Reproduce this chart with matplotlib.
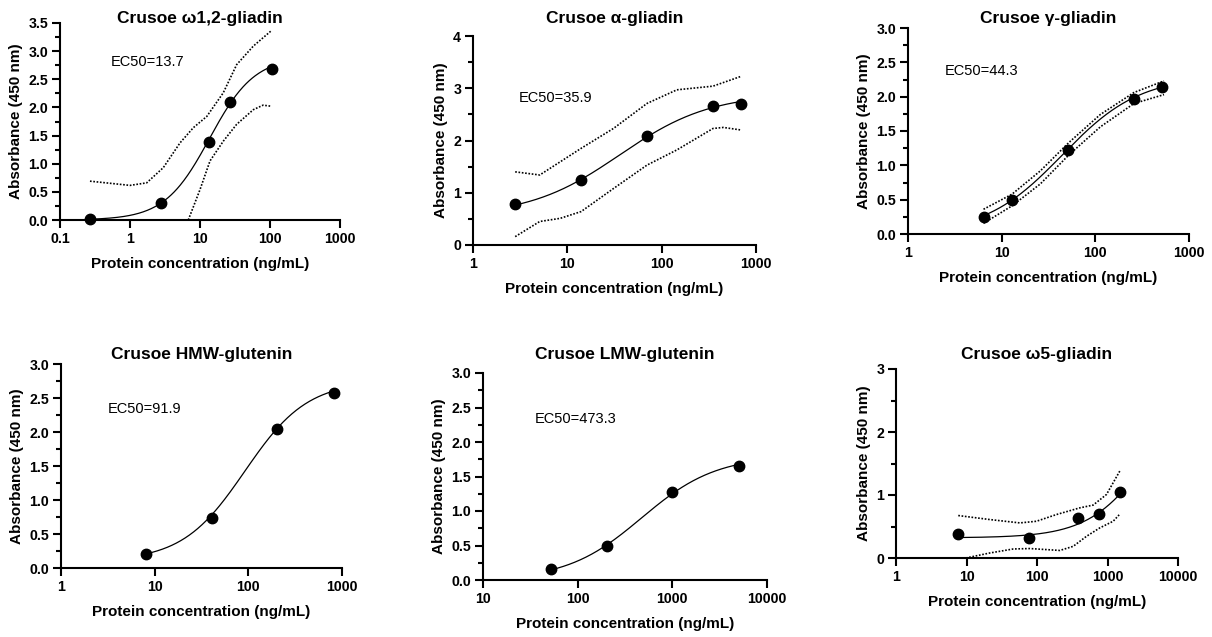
import numpy as np
import matplotlib
matplotlib.use("Agg")
import matplotlib.pyplot as plt
from matplotlib.ticker import FixedLocator, MultipleLocator, FormatStrFormatter, NullLocator

plt.rcParams["font.family"] = ["Liberation Sans", "DejaVu Sans"]

titles = ["Crusoe \u03c91,2-gliadin", "Crusoe \u03b1-gliadin", "Crusoe \u03b3-gliadin",
          "Crusoe HMW-glutenin", "Crusoe LMW-glutenin", "Crusoe \u03c95-gliadin"]
ec50_labels = ["EC50=13.7", "EC50=35.9", "EC50=44.3", "EC50=91.9", "EC50=473.3", None]

# measured points (ng/mL, absorbance)
conc = [
    [0.27, 2.73, 13.5, 26.5, 108],
    [2.8, 14, 70, 350, 700],
    [6.4, 12.8, 51.2, 256, 512],
    [8.1, 41, 204, 820],
    [52, 202, 1000, 5000],
    [7.6, 76, 382, 762, 1525],
]
absorb = [
    [0.02, 0.31, 1.39, 2.09, 2.68],
    [0.78, 1.24, 2.08, 2.66, 2.70],
    [0.25, 0.50, 1.22, 1.97, 2.14],
    [0.21, 0.74, 2.05, 2.57],
    [0.16, 0.49, 1.27, 1.65],
    [0.38, 0.31, 0.63, 0.70, 1.04],
]

# 4PL fit parameters: bottom, top, EC50, hill
fit_bottom = [0.0, 0.55, 0.0, 0.10, 0.0, 0.32]
fit_top = [2.90, 2.90, 2.30, 2.75, 1.80, 3.00]
fit_ec50 = [13.7, 35.9, 44.3, 91.9, 473.3, 4300]
fit_hill = [1.35, 0.90, 1.05, 1.30, 1.10, 1.00]

# confidence band traces
upper_x = [
    [0.268, 1.0, 1.73, 2.99, 5.18, 8.03, 12.5, 21.5, 33.4, 57.8, 106],
    [2.8, 5.1, 14, 30.8, 70, 145, 350, 700],
    [6.4, 12.9, 25.9, 52, 113, 258, 541],
    None,
    None,
    [7.64, 21.5, 57.2, 98, 189, 405, 626, 967, 1494],
]
upper_y = [
    [0.69, 0.615, 0.66, 0.93, 1.37, 1.64, 1.84, 2.26, 2.76, 3.09, 3.37],
    [1.40, 1.34, 1.85, 2.23, 2.71, 2.97, 3.04, 3.23],
    [0.36, 0.58, 0.92, 1.33, 1.74, 2.06, 2.23],
    None,
    None,
    [0.674, 0.61, 0.557, 0.583, 0.69, 0.796, 0.84, 1.008, 1.38],
]
lower_x = [
    [6.8, 10, 13.9, 21.5, 33.4, 57.8, 79.6, 106],
    [2.8, 5.1, 8.4, 14, 30.8, 70, 145, 350, 451, 700],
    [6.4, 12.9, 25.9, 52, 113, 258, 541],
    None,
    None,
    [9.8, 21.5, 46, 79, 211, 326, 503, 778, 1202, 1462],
]
lower_y = [
    [0.0, 0.54, 1.05, 1.40, 1.70, 1.96, 2.04, 2.02],
    [0.16, 0.45, 0.51, 0.64, 1.08, 1.53, 1.82, 2.23, 2.25, 2.20],
    [0.155, 0.41, 0.73, 1.15, 1.56, 1.90, 2.03],
    None,
    None,
    [0.0, 0.08, 0.143, 0.15, 0.12, 0.185, 0.344, 0.478, 0.583, 0.685],
]

zero_dotted = [True, False, False, False, True, False]

x_limits = [(0.1, 1000), (1, 1000), (1, 1000), (1, 1000), (10, 10000), (1, 10000)]
x_ticks = [[0.1, 1, 10, 100, 1000], [1, 10, 100, 1000], [1, 10, 100, 1000],
           [1, 10, 100, 1000], [10, 100, 1000, 10000], [1, 10, 100, 1000, 10000]]
x_ticklabels = [["0.1", "1", "10", "100", "1000"], ["1", "10", "100", "1000"],
                ["1", "10", "100", "1000"], ["1", "10", "100", "1000"],
                ["10", "100", "1000", "10000"], ["1", "10", "100", "1000", "10000"]]
y_max = [3.5, 4, 3, 3, 3, 3]
y_major = [0.5, 1, 0.5, 0.5, 0.5, 1]
y_fmt = ["%.1f", "%d", "%.1f", "%.1f", "%.1f", "%d"]

# axes boxes in pixels: left, right, top, bottom
W, H = 1212, 637
boxes = [(60, 340, 23, 220), (473, 756, 36, 245), (908, 1189, 28, 234),
         (61, 342, 364, 568), (483, 767, 373, 580), (896, 1178, 369, 558)]
title_y = [19, 19, 19, 355, 355, 355]
ec50_pos = [(0.18, 0.80), (0.163, 0.705), (0.13, 0.79), (0.167, 0.78), (0.183, 0.78), None]

fig = plt.figure(figsize=(W / 100, H / 100), dpi=100)

for i in range(6):
    l, r, t, b = boxes[i]
    ax = fig.add_axes([l / W, 1 - b / H, (r - l) / W, (b - t) / H])
    ax.set_xscale("log")

    xs = np.logspace(np.log10(conc[i][0]), np.log10(conc[i][-1]), 300)
    ys = fit_bottom[i] + (fit_top[i] - fit_bottom[i]) / (1 + (fit_ec50[i] / xs) ** fit_hill[i])
    ax.plot(xs, ys, color="black", lw=0.9)

    if upper_x[i] is not None:
        ax.plot(upper_x[i], upper_y[i], color="black", ls=(0, (1, 1)), lw=1.2)
        ax.plot(lower_x[i], lower_y[i], color="black", ls=(0, (1, 1)), lw=1.2)
    if zero_dotted[i]:
        ax.axhline(0, color="black", ls=(0, (1, 1)), lw=1.4, clip_on=False)

    ax.plot(conc[i], absorb[i], "o", color="black", ms=7.5, clip_on=False, zorder=5)

    ax.set_xlim(*x_limits[i])
    ax.set_ylim(0, y_max[i])
    ax.xaxis.set_major_locator(FixedLocator(x_ticks[i]))
    ax.set_xticklabels(x_ticklabels[i])
    ax.xaxis.set_minor_locator(NullLocator())
    ax.yaxis.set_major_locator(MultipleLocator(y_major[i]))
    ax.yaxis.set_minor_locator(MultipleLocator(y_major[i] / 2))
    ax.yaxis.set_major_formatter(FormatStrFormatter(y_fmt[i]))

    for s in ["top", "right"]:
        ax.spines[s].set_visible(False)
    for s in ["left", "bottom"]:
        ax.spines[s].set_linewidth(1.5)
    ax.tick_params(which="major", length=5.5, width=1.5, labelsize=10.2, pad=3)
    ax.tick_params(which="minor", length=3.5, width=1.5)
    for lab in ax.get_xticklabels() + ax.get_yticklabels():
        lab.set_fontweight("bold")

    ax.set_xlabel("Protein concentration (ng/mL)", fontsize=11, fontweight="bold", labelpad=8)
    ax.set_ylabel("Absorbance (450 nm)", fontsize=11, fontweight="bold", labelpad=4)

    fig.text((l + r) / 2 / W, 1 - title_y[i] / H, titles[i], ha="center", va="center",
             fontsize=12.5, fontweight="bold")
    if ec50_labels[i]:
        ax.text(ec50_pos[i][0], ec50_pos[i][1], ec50_labels[i], transform=ax.transAxes,
                ha="left", va="center", fontsize=10.5)

fig.savefig("out.png", dpi=100)
